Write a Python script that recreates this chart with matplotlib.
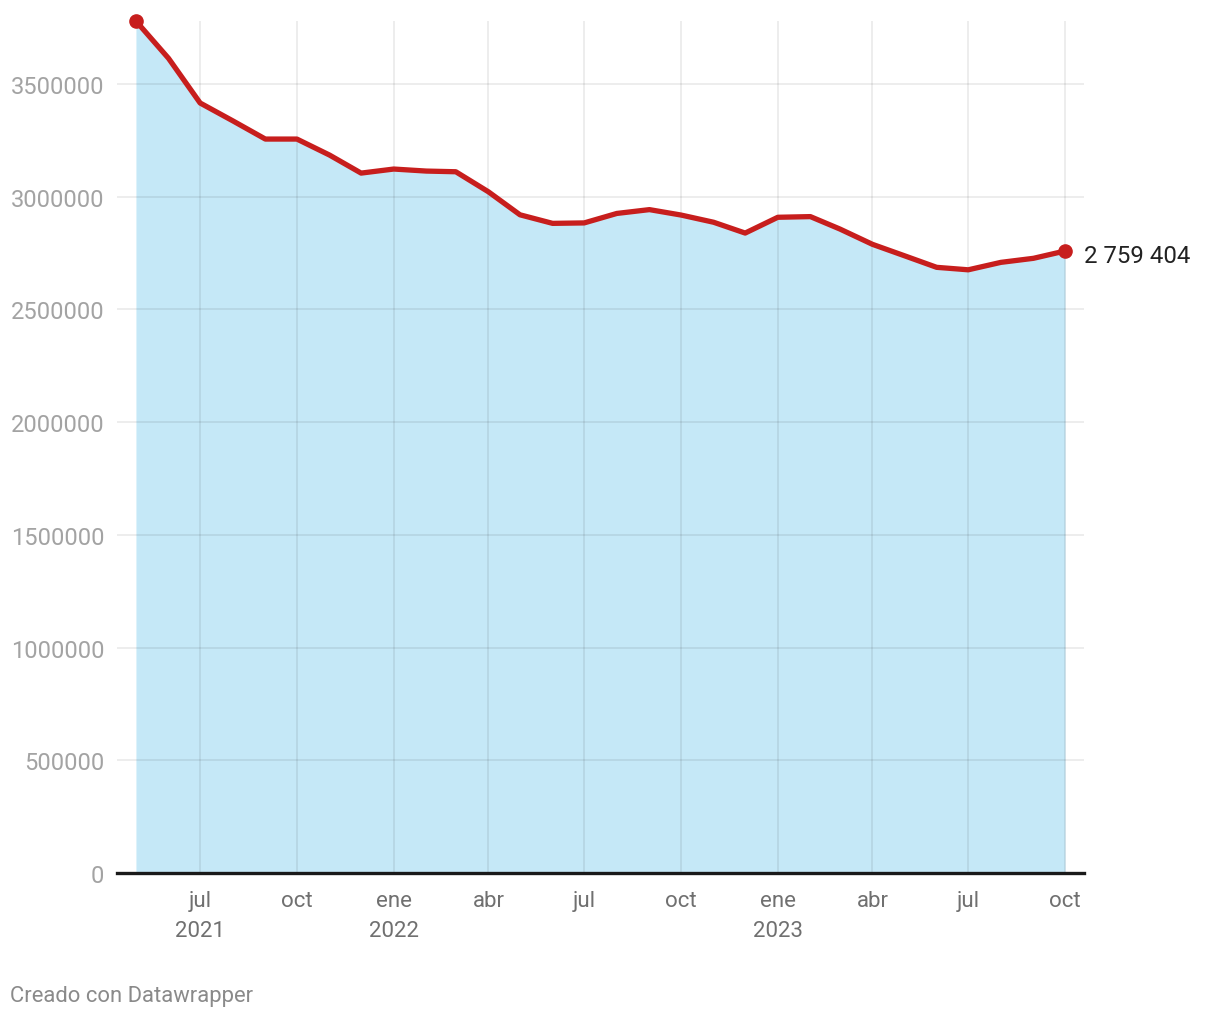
import datetime as dt
import matplotlib
matplotlib.use('Agg')
import matplotlib.pyplot as plt
import matplotlib.dates as mdates
from matplotlib.ticker import FixedLocator, FuncFormatter

plt.rcParams['font.family'] = ['Roboto', 'DejaVu Sans']

# monthly values, may 2021 .. oct 2023
months = [dt.date(2021 + (4 + i) // 12, (4 + i) % 12 + 1, 1) for i in range(30)]
values = [3779600, 3614000, 3416000, 3337000, 3256000, 3256000, 3185000, 3105000,
          3123000, 3114000, 3111000, 3022000, 2920000, 2882000, 2884000, 2926000,
          2943000, 2919000, 2887000, 2839000, 2909000, 2912000, 2857000, 2789000,
          2739000, 2687000, 2676000, 2709000, 2727000, 2759404]

tick_dates = [dt.date(2021, 7, 1), dt.date(2021, 10, 1), dt.date(2022, 1, 1),
              dt.date(2022, 4, 1), dt.date(2022, 7, 1), dt.date(2022, 10, 1),
              dt.date(2023, 1, 1), dt.date(2023, 4, 1), dt.date(2023, 7, 1),
              dt.date(2023, 10, 1)]
tick_labels = ['jul\n2021', 'oct', 'ene\n2022', 'abr', 'jul', 'oct',
               'ene\n2023', 'abr', 'jul', 'oct']
y_ticks = [0, 500000, 1000000, 1500000, 2000000, 2500000, 3000000, 3500000]
last_label = '2 759 404'

red = '#c71e1d'

fig = plt.figure(figsize=(12.2, 10.2), dpi=100)
ax = fig.add_axes([0.0959, 0.1431, 0.7926, 0.8353])

ax.fill_between(months, values, 0, color='#c5e8f7', zorder=0.3, linewidth=0)
ax.plot(months, values, color=red, linewidth=3.8, zorder=3, solid_joinstyle='round')
ax.plot([months[0], months[-1]], [values[0], values[-1]], 'o', color=red,
        markersize=9.5, zorder=4, clip_on=False)

ax.set_xlim(months[0] - dt.timedelta(days=18), months[-1] + dt.timedelta(days=18))
ax.set_ylim(0, max(values))

ax.xaxis.set_major_locator(FixedLocator([mdates.date2num(d) for d in tick_dates]))
ax.set_xticklabels(tick_labels)
ax.set_yticks(y_ticks)
ax.yaxis.set_major_formatter(FuncFormatter(lambda v, p: f'{int(v)}'))

ax.set_axisbelow(True)
ax.grid(True, color='black', alpha=0.07, linewidth=1.4)

for s in ['top', 'right', 'left']:
    ax.spines[s].set_visible(False)
ax.spines['bottom'].set_color('#1a1a1a')
ax.spines['bottom'].set_linewidth(2.4)
ax.spines['bottom'].set_zorder(5)

ax.tick_params(axis='y', length=0, pad=9, labelsize=17, labelcolor='#a3a3a3')
ax.tick_params(axis='x', length=0, pad=12, labelsize=16, labelcolor='#707070')
for lbl in ax.get_xticklabels():
    lbl.set_linespacing(1.55)

ax.annotate(last_label, xy=(mdates.date2num(months[-1]), values[-1]),
            xytext=(14, -3), textcoords='offset points', va='center', ha='left',
            fontsize=17.3, color='#222222', annotation_clip=False)

fig.text(10 / 1220, 1 - 997 / 1020, 'Creado con Datawrapper', fontsize=15.8,
         color='#8a8a8a', ha='left', va='center')

fig.savefig('out.png', dpi=100)
